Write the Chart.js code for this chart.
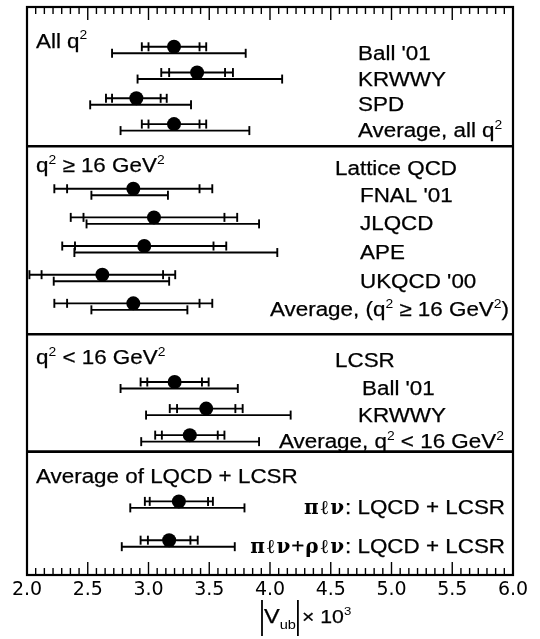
<!DOCTYPE html>
<html><head><meta charset="utf-8">
<script src="https://cdn.jsdelivr.net/npm/chart.js@4"></script>
<style>html,body{margin:0;padding:0;background:#fff}#wrap{width:540px;height:639px;position:relative}canvas{display:block}</style>
</head><body><div id="wrap"><canvas id="c" width="540" height="639"></canvas></div>
<script>
// ---------------- data ----------------
const categories = ["Ball '01","KRWWY","SPD","Average, all q^{2}",
  "FNAL '01","JLQCD","APE","UKQCD '00","Average, (q^{2} ≥ 16 GeV^{2})",
  "Ball '01","KRWWY","Average, q^{2} < 16 GeV^{2}",
  "πℓν: LQCD + LCSR","πℓν+ρℓν: LQCD + LCSR"];
const panelOf   = [0,0,0,0, 1,1,1,1,1, 2,2,2, 3,3];
const vub       = [3.21,3.40,2.90,3.21, 2.875,3.045,2.965,2.62,2.875, 3.215,3.475,3.34, 3.25,3.17];
const statErr   = [0.21,0.23,0.20,0.21, 0.545,0.58,0.57,0.50,0.545, 0.225,0.24,0.23, 0.24,0.175];
const expErr    = [0.265,0.295,0.25,0.265, 0.65,0.685,0.675,0.60,0.65, 0.28,0.30,0.285, 0.28,0.235];
const thErrLo   = [0.51,0.49,0.38,0.44, 0.345,0.555,0.575,0.40,0.345, 0.445,0.495,0.40, 0.40,0.39];
const thErrHi   = [0.59,0.70,0.45,0.62, 0.285,0.865,1.095,0.55,0.445, 0.52,0.695,0.57, 0.54,0.54];
const panelTitles = ["All q^{2}","q^{2} ≥ 16 GeV^{2}","q^{2} < 16 GeV^{2}","Average of LQCD + LCSR"];
const groupTitles = ["","Lattice QCD","LCSR",""];
const xTickValues = [2.0,2.5,3.0,3.5,4.0,4.5,5.0,5.5,6.0];

// ---------------- layout (row slots, not data) ----------------
const panelRowStart = [40, 182.7, 377, 497];
const panelRowStep  = [25.9, 28.8, 26.7, 39];
const separators    = [140, 329, 447];
const panelTitleY   = [41, 166, 359, 479];
const rowY = [];
{ const cnt=[0,0,0,0]; panelOf.forEach((p,i)=>{ rowY[i]=panelRowStart[p]+panelRowStep[p]*cnt[p]; cnt[p]++; }); }
const labelX = [358,358,358,358, 360,360,360,360,270, 362,358,279, null,null];

// ---------------- rich text ----------------
const SANS = '"Liberation Sans", Arial, sans-serif';
const SERIF = '"DejaVu Serif", "Liberation Serif", serif';
const SX = 1.12;
function parseRich(s){
  const segs=[]; let i=0, buf='';
  while(i<s.length){
    if((s[i]==='^'||s[i]==='_') && s[i+1]==='{'){
      if(buf){segs.push({t:buf,m:'n'});buf='';}
      const j=s.indexOf('}',i);
      segs.push({t:s.slice(i+2,j), m:s[i]==='^'?'sup':'sub'}); i=j+1;
    } else { buf+=s[i]; i++; }
  }
  if(buf) segs.push({t:buf,m:'n'});
  const out=[];
  segs.forEach(sg=>{
    let cur='', g=null;
    for(const ch of sg.t){
      const isG = 'πℓνρ'.includes(ch);
      if(g!==null && isG!==g){ out.push({t:cur,m:sg.m,g}); cur=''; }
      g=isG; cur+=ch;
    }
    if(cur) out.push({t:cur,m:sg.m,g});
  });
  return out;
}
function pieceFont(p,size){
  const s = p.m==='n'?size:size*0.62;
  return (p.g?'bold ':'')+s+'px '+(p.g?SERIF:SANS);
}
function pieceWidth(ctx,p,size){
  ctx.font=pieceFont(p,size);
  if(p.g){ let w=0; for(const ch of p.t){ w+=ctx.measureText(ch).width+2; } return w; }
  return ctx.measureText(p.t).width*SX;
}
function drawRich(ctx,str,x,y,size,align){
  const ps=parseRich(str);
  let total=0; ps.forEach(p=>total+=pieceWidth(ctx,p,size));
  let cx = align==='right'? x-total : align==='center'? x-total/2 : x;
  ctx.fillStyle='#000'; ctx.strokeStyle='#000';
  ctx.textBaseline='alphabetic'; ctx.textAlign='left';
  ps.forEach(p=>{
    const w=pieceWidth(ctx,p,size);
    const dy = p.m==='sup'? -size*0.42 : p.m==='sub'? size*0.28 : 0;
    ctx.font=pieceFont(p,size);
    if(p.g){
      let gx=cx; for(const ch of p.t){ ctx.fillText(ch,gx+1,y+dy); gx+=ctx.measureText(ch).width+2; }
    } else {
      ctx.save(); ctx.translate(cx,y+dy); ctx.scale(SX,1);
      ctx.fillText(p.t,0,0);
      if(p.m==='n'){ ctx.lineWidth=0.25; ctx.strokeText(p.t,0,0); }
      ctx.restore();
    }
    cx+=w;
  });
  return total;
}

// ---------------- plugin ----------------
const forestPlugin = {
  id:'forest',
  beforeDatasetsDraw(chart){
    const {ctx, scales:{x,y}} = chart;
    ctx.save();
    ctx.strokeStyle='#000'; ctx.lineCap='butt';
    const cap=4.5, off=6.5;
    vub.forEach((v,i)=>{
      const py=y.getPixelForValue(rowY[i]);
      const xs=[v-expErr[i],v-statErr[i],v+statErr[i],v+expErr[i]].map(t=>x.getPixelForValue(t));
      ctx.lineWidth=1.9;
      ctx.beginPath(); ctx.moveTo(xs[0],py); ctx.lineTo(xs[3],py); ctx.stroke();
      xs.forEach(px=>{ ctx.beginPath(); ctx.moveTo(px,py-cap); ctx.lineTo(px,py+cap); ctx.stroke(); });
      const ly=py+off;
      const l0=x.getPixelForValue(v-thErrLo[i]), l1=x.getPixelForValue(v+thErrHi[i]);
      ctx.beginPath(); ctx.moveTo(l0,ly); ctx.lineTo(l1,ly); ctx.stroke();
      [l0,l1].forEach(px=>{ ctx.beginPath(); ctx.moveTo(px,ly-cap); ctx.lineTo(px,ly+cap); ctx.stroke(); });
    });
    ctx.restore();
  },
  afterDraw(chart){
    const {ctx, chartArea:a, scales:{x,y}} = chart;
    ctx.save();
    ctx.strokeStyle='#000'; ctx.lineWidth=2.2;
    ctx.strokeRect(a.left,a.top,a.right-a.left,a.bottom-a.top);
    ctx.lineWidth=2.6;
    separators.forEach(s=>{ const py=y.getPixelForValue(s); ctx.beginPath(); ctx.moveTo(a.left,py); ctx.lineTo(a.right,py); ctx.stroke(); });
    ctx.lineWidth=1.4;
    const n=56;
    for(let k=1;k<n;k++){
      const v=2+k*0.5/7; const px=x.getPixelForValue(v);
      const len = k%7===0?13:7;
      ctx.beginPath(); ctx.moveTo(px,a.bottom); ctx.lineTo(px,a.bottom-len); ctx.stroke();
      ctx.beginPath(); ctx.moveTo(px,a.top); ctx.lineTo(px,a.top+len); ctx.stroke();
    }
    panelTitles.forEach((t,p)=>{ drawRich(ctx,t,a.left+9,y.getPixelForValue(panelTitleY[p]),20,'left'); });
    groupTitles.forEach((t,p)=>{ if(t) drawRich(ctx,t,335,y.getPixelForValue(panelTitleY[p]+3),20,'left'); });
    categories.forEach((c,i)=>{
      const py=y.getPixelForValue(rowY[i])+13;
      if(labelX[i]===null) drawRich(ctx,c,505,py,20,'right');
      else drawRich(ctx,c,labelX[i],py,20,'left');
    });
    // axis title |V_ub| x 10^3
    const ty=623, size=21;
    ctx.font=size+'px '+SANS;
    const wV=ctx.measureText('V').width*SX;
    ctx.font=(size*0.62)+'px '+SANS;
    const wUb=ctx.measureText('ub').width*SX;
    let cx=262;
    ctx.strokeStyle='#000'; ctx.lineWidth=1.8;
    ctx.beginPath(); ctx.moveTo(cx,600); ctx.lineTo(cx,636); ctx.stroke();
    cx+=2;
    drawRich(ctx,'V_{ub}',cx,ty,size,'left');
    cx+=wV+wUb+2;
    ctx.strokeStyle='#000'; ctx.lineWidth=1.8;
    ctx.beginPath(); ctx.moveTo(cx,600); ctx.lineTo(cx,636); ctx.stroke();
    cx+=4;
    drawRich(ctx,'× 10^{3}',cx,ty,19,'left');
    ctx.restore();
  }
};

// ---------------- chart ----------------
const points = vub.map((v,i)=>({x:v,y:rowY[i]}));
new Chart(document.getElementById('c'),{
  type:'scatter',
  data:{datasets:[{data:points,pointRadius:7,pointHoverRadius:7,backgroundColor:'#000',borderColor:'#000',borderWidth:0}]},
  options:{
    responsive:false, maintainAspectRatio:false, animation:false, devicePixelRatio:1,
    layout:{padding:{left:27,right:27,top:4,bottom:0}},
    plugins:{legend:{display:false},tooltip:{enabled:false}},
    scales:{
      x:{type:'linear',min:2,max:6,
        afterBuildTicks:(s)=>{ s.ticks = xTickValues.map(v=>({value:v})); },
        afterFit:(s)=>{ s.height=64; },
        grid:{display:false,drawTicks:false}, border:{display:false},
        ticks:{autoSkip:false,maxRotation:0,padding:4,color:'#000',
          font:{family:'"DejaVu Sans", sans-serif',size:19},
          callback:(v)=>Number(v).toFixed(1)}},
      y:{type:'linear',reverse:true,min:0,max:571,display:false}
    }
  },
  plugins:[forestPlugin]
});
</script>
</body></html>
